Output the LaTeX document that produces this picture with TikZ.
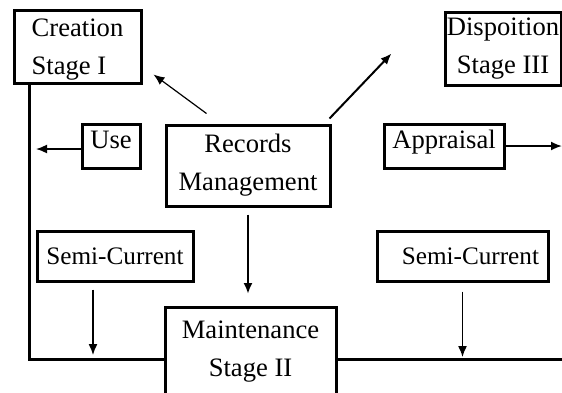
\documentclass[tikz,border=0pt]{standalone}
\usepackage{fontspec}
\setmainfont{Liberation Serif}
\usetikzlibrary{arrows.meta}

\begin{document}
\begin{tikzpicture}[x=0.5pt,y=-0.5pt,
  stage/.style={draw,line width=1.5pt,inner sep=0pt,align=center,
    font=\fontsize{13.3}{19}\selectfont},
  label/.style={stage,text height=9pt,text depth=7pt,minimum height=22pt},
  semi/.style={stage,minimum height=25pt,font=\fontsize{12.6}{19}\selectfont},
  flow/.style={-{Latex[length=5.5pt,width=4.5pt]},line width=0.8pt},
  bar/.style={line width=1.5pt}]

\useasboundingbox (0,0) rectangle (562,392);

\node[stage,align=left,text depth=0pt,minimum width=63.5pt,minimum height=36.5pt] (creation) at (77.5,46.5) {Creation\\Stage I};
\node[stage,minimum width=58pt,minimum height=36.5pt] (dispo) at (503,48.5) {Dispoition\\Stage III};
\node[stage,minimum width=82pt,minimum height=40.5pt] (records) at (248,165.5) {Records\\Management};
\node[label,minimum width=29pt] (use) at (111,146) {Use};
\node[label,minimum width=60pt] (appraisal) at (444,146) {Appraisal};
\node[semi,minimum width=78pt] (semil) at (115,256) {Semi-Current};
\node[semi,align=right,text width=76.5pt,inner xsep=4.5pt] (semir) at (462.5,256) {Semi-Current};
\node[stage,anchor=north,minimum width=85.5pt,inner ysep=6.85pt] (maint) at (250.5,306) {Maintenance\\Stage II};

\coordinate (lc) at (29,359);
\coordinate (rc) at (562,359);
\coordinate (sl) at ([xshift=-11pt]semil.south);

\draw[bar] (lc |- creation.south) -- (lc) -- (lc -| maint.west);
\draw[bar] (maint.east |- rc) -- (rc);

\draw[flow,line width=0.6pt] ([shift={(42,-10)}]records.north west) -- ([shift={(11,-10)}]creation.south east);
\draw[flow,line width=1pt] ([shift={(-2,-5)}]records.north east) -- ([shift={(-52,-33)}]dispo.south west);
\draw[flow,shorten >=3.5pt] ([yshift=-1.5pt]use.west) -- ([yshift=-1.5pt]use.west -| lc);
\draw[flow,line width=0.9pt] (appraisal.east) -- (appraisal.east -| rc);
\draw[flow,line width=1.2pt,shorten <=3.5pt,shorten >=6pt] (records.south) -- (records.south |- maint.north);
\draw[flow,line width=0.7pt,shorten <=3.5pt,shorten >=2pt] (sl) -- (sl |- lc);
\draw[flow,line width=0.7pt,shorten <=4.5pt,shorten >=1pt] (semir.south) -- (semir.south |- rc);

\end{tikzpicture}
\end{document}
